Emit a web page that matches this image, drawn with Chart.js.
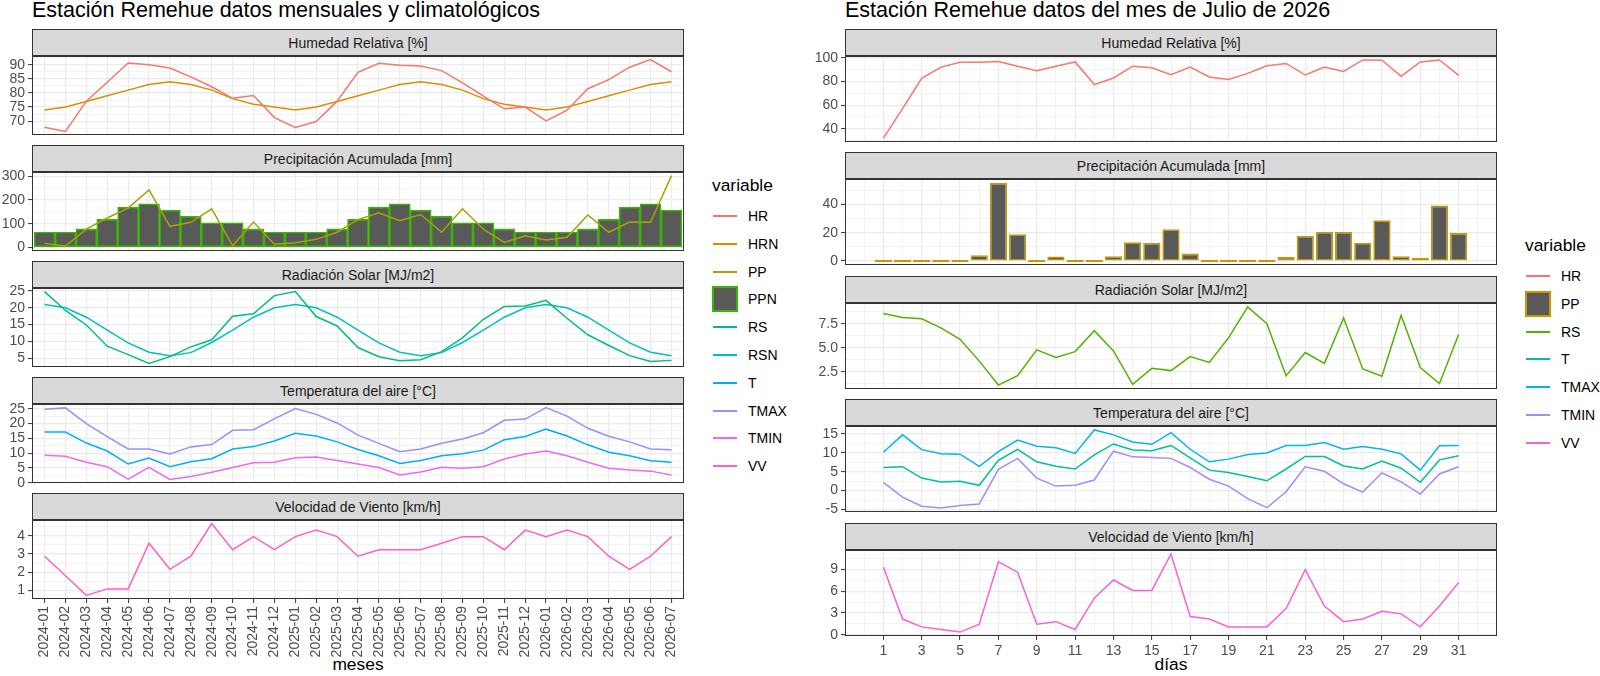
<!DOCTYPE html>
<html lang="es">
<head>
<meta charset="utf-8">
<title>Estación Remehue</title>
<script src="https://cdn.jsdelivr.net/npm/chart.js@4.4.1/dist/chart.umd.min.js"></script>
<style>
  body { margin: 0; background: #fff; font-family: "Liberation Sans", Arial, sans-serif; }
  #lienzo { position: relative; width: 1600px; height: 676px; overflow: hidden; background: #fff; }
  .titulo { position: absolute; top: -1px; font-size: 21.5px; line-height: 22px; color: #000; white-space: nowrap; }
  .tira { position: absolute; box-sizing: border-box; background: #d9d9d9; border: 1px solid #333;
          font-size: 14px; color: #1a1a1a; display: flex; align-items: center; justify-content: center; }
  .caja { position: absolute; }
  .eje { position: absolute; font-size: 17.4px; line-height: 18px; color: #000; transform: translateX(-50%); white-space: nowrap; }
  .ley-tit { position: absolute; font-size: 17.4px; line-height: 18px; color: #000; }
  .ley-txt { position: absolute; font-size: 14px; line-height: 14px; color: #000; }
  .ley-lin { position: absolute; height: 2px; }
  .ley-caja { position: absolute; box-sizing: border-box; background: #595959; border: 2px solid; }
</style>
</head>
<body>
<div id="lienzo">
  <div class="titulo" style="left:32px">Estación Remehue datos mensuales y climatológicos</div>
  <div class="titulo" style="left:845px">Estación Remehue datos del mes de Julio de 2026</div>
  <div class="eje" style="left:358px;top:655px">meses</div>
  <div class="eje" style="left:1171px;top:655px">días</div>
</div>
<script>
// ---- datos mensuales ----
const meses = ['2024-01','2024-02','2024-03','2024-04','2024-05','2024-06','2024-07','2024-08','2024-09','2024-10','2024-11','2024-12',
               '2025-01','2025-02','2025-03','2025-04','2025-05','2025-06','2025-07','2025-08','2025-09','2025-10','2025-11','2025-12',
               '2026-01','2026-02','2026-03','2026-04','2026-05','2026-06','2026-07'];
const hrMes   = [67.9, 66.4, 77.1, 83.8, 90.6, 90.0, 88.8, 85.7, 82.2, 78.1, 79.1, 71.3, 67.8, 69.9, 77.1, 87.3, 90.5, 89.8, 89.5, 87.9, 83.6, 78.9, 74.4, 75.0, 70.1, 73.9, 81.5, 84.7, 89.1, 91.8, 87.5];
const hrnMes  = [74, 75, 77, 79, 81, 83, 84, 83, 81, 78, 76, 75, 74, 75, 77, 79, 81, 83, 84, 83, 81, 78, 76, 75, 74, 75, 77, 79, 81, 83, 84];
const ppMes   = [17, 6, 77, 124, 166, 243, 89, 106, 163, 7, 107, 13, 20, 34, 64, 117, 146, 113, 139, 64, 163, 77, 21, 49, 31, 43, 137, 64, 107, 106, 303];
const ppnMes  = [65, 65, 78, 118, 170, 184, 157, 131, 104, 104, 78, 65, 65, 65, 78, 118, 170, 184, 157, 131, 104, 104, 78, 65, 65, 65, 78, 118, 170, 184, 157];
const rsMes   = [24.8, 19.2, 14.9, 8.6, 6.1, 3.5, 5.5, 8.4, 10.5, 17.5, 18.2, 23.6, 24.8, 17.4, 14.6, 8.2, 5.5, 4.3, 4.6, 7.0, 11.1, 16.6, 20.4, 20.5, 22.2, 16.9, 12.0, 8.8, 5.8, 4.1, 4.4];
const rsnMes  = [21, 20, 17.2, 13.4, 9.6, 6.8, 5.8, 6.7, 9.7, 13.4, 17.2, 20, 21, 20, 17.2, 13.4, 9.6, 6.8, 5.8, 6.7, 9.7, 13.4, 17.2, 20, 21, 20, 17.2, 13.4, 9.6, 6.8, 5.8];
const tMes    = [17.1, 17.1, 13.4, 10.7, 6.3, 8.3, 5.4, 7.1, 8.1, 11.4, 12.2, 14.1, 16.7, 15.8, 13.8, 11.2, 9.1, 6.5, 7.5, 9.1, 9.8, 11.0, 14.5, 15.6, 18.1, 15.8, 12.8, 10.3, 9.1, 7.4, 6.9];
const tmaxMes = [24.8, 25.3, 20.0, 15.6, 11.4, 11.4, 9.7, 12.1, 12.9, 17.7, 17.9, 21.6, 25.1, 23.1, 20.2, 16.1, 13.3, 10.5, 11.4, 13.3, 14.8, 16.9, 21.1, 21.5, 25.4, 22.5, 18.4, 15.7, 13.8, 11.4, 11.1];
const tminMes = [9.3, 8.9, 6.9, 5.4, 1.2, 5.2, 1.1, 2.1, 3.5, 5.1, 6.7, 6.9, 8.4, 8.7, 7.5, 6.3, 5.1, 2.6, 3.6, 5.2, 4.9, 5.4, 8.0, 9.7, 10.7, 9.1, 6.9, 4.9, 4.3, 3.9, 2.6];
const vvMes   = [2.88, 1.8, 0.72, 1.08, 1.08, 3.6, 2.16, 2.88, 4.68, 3.24, 3.96, 3.24, 3.96, 4.32, 3.96, 2.88, 3.24, 3.24, 3.24, 3.6, 3.96, 3.96, 3.24, 4.32, 3.96, 4.32, 3.96, 2.88, 2.16, 2.88, 3.96];

// ---- datos diarios (julio 2026) ----
const dias    = [1, 2, 3, 4, 5, 6, 7, 8, 9, 10, 11, 12, 13, 14, 15, 16, 17, 18, 19, 20, 21, 22, 23, 24, 25, 26, 27, 28, 29, 30, 31];
const hrDia   = [32.1, 57, 82.7, 92.2, 96.4, 96.4, 96.9, 93.0, 89.1, 93.0, 96.6, 77.4, 83.0, 93.0, 91.6, 85.8, 92.2, 83.8, 81.8, 86.9, 93.3, 95.3, 85.5, 92.2, 88.5, 98.3, 98.0, 84.4, 96.6, 98.3, 85.2];
const ppDia   = [0, 0, 0, 0, 0, 4.2, 55.3, 19.0, 0, 3.3, 0, 0, 3.5, 13.3, 12.8, 22.6, 5.3, 0, 0, 0, 0, 3.0, 17.9, 20.7, 20.7, 13.0, 28.8, 3.5, 2.3, 39.3, 19.8];
const rsDia   = [8.6, 8.18, 8.05, 7.09, 5.9, 3.63, 1.13, 2.12, 4.8, 4.0, 4.62, 6.8, 4.69, 1.2, 2.88, 2.64, 4.1, 3.5, 6.06, 9.28, 7.53, 2.09, 4.52, 3.39, 8.12, 2.81, 2.05, 8.39, 2.95, 1.3, 6.4];
const tDia    = [6.1, 6.3, 3.3, 2.3, 2.5, 1.4, 8.0, 10.9, 7.6, 6.4, 5.7, 9.4, 12.3, 10.7, 10.5, 11.9, 8.6, 5.4, 4.8, 3.7, 2.6, 5.7, 9.0, 9.0, 6.5, 5.7, 7.8, 5.9, 2.2, 8.1, 9.2];
const tmaxDia = [10.1, 14.7, 10.8, 9.7, 9.6, 6.4, 10.3, 13.3, 11.7, 11.3, 9.8, 16.0, 14.7, 12.8, 12.2, 15.3, 10.9, 7.6, 8.3, 9.5, 9.9, 11.9, 11.9, 12.7, 10.9, 11.6, 10.9, 9.7, 5.4, 11.8, 11.9];
const tminDia = [2.2, -1.7, -4.1, -4.6, -3.9, -3.5, 5.6, 8.5, 3.3, 1.2, 1.4, 2.8, 10.4, 8.9, 8.7, 8.5, 6.1, 3.0, 1.2, -2.1, -4.5, -0.3, 6.3, 5.1, 1.8, -0.4, 4.7, 2.3, -0.9, 4.4, 6.3];
const vvDia   = [9.36, 2.16, 1.08, 0.72, 0.36, 1.44, 10.08, 8.64, 1.44, 1.8, 0.72, 5.04, 7.56, 6.12, 6.12, 11.16, 2.52, 2.16, 1.08, 1.08, 1.08, 3.6, 9.0, 3.96, 1.8, 2.16, 3.24, 2.88, 1.08, 3.96, 7.2];

// ---- marcas de los ejes ----
const ticksHrMes = [70, 75, 80, 85, 90];
const ticksPpMes = [0, 100, 200, 300];
const ticksRsMes = [5, 10, 15, 20, 25];
const ticksTMes  = [0, 5, 10, 15, 20, 25];
const ticksVvMes = [1, 2, 3, 4];
const ticksHrDia = [40, 60, 80, 100];
const ticksPpDia = [0, 20, 40];
const ticksRsDia = [2.5, 5.0, 7.5];
const ticksTDia  = [-5, 0, 5, 10, 15];
const ticksVvDia = [0, 3, 6, 9];
const ticksDias  = [1, 3, 5, 7, 9, 11, 13, 15, 17, 19, 21, 23, 25, 27, 29, 31];

const colMes = { HR: '#F8766D', HRN: '#D89000', PP: '#A3A500', PPN: '#39B600', RS: '#00BF7D', RSN: '#00BFC4',
                 T: '#00B0F6', TMAX: '#9590FF', TMIN: '#E76BF3', VV: '#FF62BC' };
const colDia = { HR: '#F8766D', PP: '#C49A00', RS: '#53B400', T: '#00C094', TMAX: '#00B6EB', TMIN: '#A58AFF', VV: '#FB61D7' };

Chart.defaults.font.family = "'Liberation Sans', Arial, sans-serif";
const lienzo = document.getElementById('lienzo');

// geometria de cada columna de facetas
const izq = { x: 32, w: 652, yW: 32, tops: [29, 145, 261, 377, 493], tira: 27, alto: 79, xH: 64,
              xMin: -0.6, xMax: 30.6, xs: meses.map((m, i) => i), rot: 90,
              xTicks: meses.map((m, i) => ({ value: i })), xLabel: v => meses[Math.round(v)] };
const der = { x: 845, w: 652, yW: 40, tops: [29, 152, 276, 399, 523], tira: 27, alto: 86, xH: 24,
              xMin: -1, xMax: 33, xs: dias, rot: 0,
              xTicks: [0].concat(dias, [32]).map(d => ({ value: d, minor: !ticksDias.includes(d) })), xLabel: v => String(v) };

function rango(series) {
  const todos = [].concat(...series);
  const lo = Math.min(...todos), hi = Math.max(...todos);
  const e = (hi - lo) * 0.05;
  return { min: lo - e, max: hi + e };
}

function conMenores(mayores, min, max) {
  const paso = mayores[1] - mayores[0];
  const out = [];
  for (let k = -2; k <= (mayores.length + 1) * 2; k++) {
    const v = Math.round((mayores[0] + k * paso / 2) * 1000) / 1000;
    if (v >= min && v <= max) out.push({ value: v, minor: k % 2 !== 0 });
  }
  return out;
}

const borde = {
  id: 'borde',
  afterDraw(chart) {
    const a = chart.chartArea, c = chart.ctx;
    c.save();
    c.strokeStyle = '#333333';
    c.lineWidth = 1;
    c.strokeRect(a.left + 0.5, a.top + 0.5, a.right - a.left - 1, a.bottom - a.top - 1);
    c.restore();
  }
};

function rejilla(marcas) {
  return {
    color: '#EBEBEB',
    lineWidth: c => (c.tick && c.tick.minor) ? 0.6 : 1.2,
    drawTicks: marcas,
    tickLength: 4,
    tickWidth: 1,
    tickColor: c => (c.tick && c.tick.minor) ? 'rgba(0,0,0,0)' : '#333333',
    offset: false
  };
}

function linea(L, arr, color) {
  return { type: 'line', data: L.xs.map((x, i) => ({ x: x, y: arr[i] })), borderColor: color, borderWidth: 1.5,
           pointRadius: 0, fill: false, tension: 0, order: 0 };
}

function barras(L, arr, borde, ancho) {
  return { type: 'bar', data: L.xs.map((x, i) => ({ x: x, y: arr[i] })), backgroundColor: '#595959',
           borderColor: borde, borderWidth: 1.6, borderSkipped: false, barPercentage: ancho,
           categoryPercentage: 1, minBarLength: 2, order: 1 };
}

function faceta(L, k, titulo, datasets, series, mayores, dec) {
  const tiraTop = L.tops[k];
  const panelTop = tiraTop + L.tira;
  const ultimo = k === 4;

  const tira = document.createElement('div');
  tira.className = 'tira';
  Object.assign(tira.style, { left: L.x + 'px', top: tiraTop + 'px', width: L.w + 'px', height: L.tira + 'px' });
  tira.textContent = titulo;
  lienzo.appendChild(tira);

  const caja = document.createElement('div');
  caja.className = 'caja';
  Object.assign(caja.style, { left: (L.x - L.yW) + 'px', top: (panelTop - 8) + 'px',
                              width: (L.yW + L.w + 4) + 'px', height: (L.alto + 16 + (ultimo ? L.xH : 0)) + 'px' });
  const cv = document.createElement('canvas');
  caja.appendChild(cv);
  lienzo.appendChild(caja);

  const r = rango(series);
  const yTicks = conMenores(mayores, r.min, r.max);
  const fuente = { size: 14 };

  new Chart(cv, {
    type: 'line',
    data: { datasets: datasets },
    options: {
      responsive: true, maintainAspectRatio: false, animation: false,
      layout: { autoPadding: false, padding: { top: 8, bottom: 8, left: 0, right: 4 } },
      plugins: { legend: { display: false }, tooltip: { enabled: false } },
      scales: {
        x: {
          type: 'linear', min: L.xMin, max: L.xMax, offset: false,
          afterBuildTicks: ax => { ax.ticks = L.xTicks.map(t => Object.assign({}, t)); },
          afterFit: ax => { ax.height = ultimo ? L.xH : 0; ax.paddingLeft = 0; ax.paddingRight = 0; },
          grid: rejilla(ultimo),
          border: { display: false },
          ticks: { display: ultimo, autoSkip: false, maxRotation: L.rot, minRotation: L.rot, padding: 3,
                   color: '#4D4D4D', font: fuente,
                   callback: (v, i, t) => t[i].minor ? '' : L.xLabel(v) }
        },
        y: {
          type: 'linear', min: r.min, max: r.max,
          afterBuildTicks: ax => { ax.ticks = yTicks.map(t => Object.assign({}, t)); },
          afterFit: ax => { ax.width = L.yW; ax.paddingTop = 0; ax.paddingBottom = 0; },
          grid: rejilla(true),
          border: { display: false },
          ticks: { autoSkip: false, padding: 3, color: '#4D4D4D', font: fuente,
                   callback: (v, i, t) => t[i].minor ? '' : v.toFixed(dec) }
        }
      }
    },
    plugins: [borde]
  });
}

// ---- columna izquierda: mensual ----
faceta(izq, 0, 'Humedad Relativa [%]',
  [linea(izq, hrMes, colMes.HR), linea(izq, hrnMes, colMes.HRN)], [hrMes, hrnMes], ticksHrMes, 0);
faceta(izq, 1, 'Precipitación Acumulada [mm]',
  [linea(izq, ppMes, colMes.PP), barras(izq, ppnMes, colMes.PPN, 1)], [ppMes, ppnMes, [0]], ticksPpMes, 0);
faceta(izq, 2, 'Radiación Solar [MJ/m2]',
  [linea(izq, rsMes, colMes.RS), linea(izq, rsnMes, colMes.RSN)], [rsMes, rsnMes], ticksRsMes, 0);
faceta(izq, 3, 'Temperatura del aire [°C]',
  [linea(izq, tMes, colMes.T), linea(izq, tmaxMes, colMes.TMAX), linea(izq, tminMes, colMes.TMIN)],
  [tMes, tmaxMes, tminMes], ticksTMes, 0);
faceta(izq, 4, 'Velocidad de Viento [km/h]',
  [linea(izq, vvMes, colMes.VV)], [vvMes], ticksVvMes, 0);

// ---- columna derecha: diario ----
faceta(der, 0, 'Humedad Relativa [%]', [linea(der, hrDia, colDia.HR)], [hrDia], ticksHrDia, 0);
faceta(der, 1, 'Precipitación Acumulada [mm]', [barras(der, ppDia, colDia.PP, 0.9)], [ppDia], ticksPpDia, 0);
faceta(der, 2, 'Radiación Solar [MJ/m2]', [linea(der, rsDia, colDia.RS)], [rsDia], ticksRsDia, 1);
faceta(der, 3, 'Temperatura del aire [°C]',
  [linea(der, tDia, colDia.T), linea(der, tmaxDia, colDia.TMAX), linea(der, tminDia, colDia.TMIN)],
  [tDia, tmaxDia, tminDia], ticksTDia, 0);
faceta(der, 4, 'Velocidad de Viento [km/h]', [linea(der, vvDia, colDia.VV)], [vvDia], ticksVvDia, 0);

// ---- leyendas ----
function leyenda(x, yTit, y0, nombres, colores, caja) {
  const t = document.createElement('div');
  t.className = 'ley-tit';
  t.style.left = x + 'px';
  t.style.top = (yTit - 9) + 'px';
  t.textContent = 'variable';
  lienzo.appendChild(t);
  nombres.forEach((n, i) => {
    const y = Math.round(y0 + i * 27.8);
    const key = document.createElement('div');
    if (n === caja) {
      key.className = 'ley-caja';
      Object.assign(key.style, { left: x + 'px', top: (y - 13) + 'px', width: '26px', height: '26px', borderColor: colores[n] });
    } else {
      key.className = 'ley-lin';
      Object.assign(key.style, { left: (x + 1) + 'px', top: (y - 1) + 'px', width: '24px', background: colores[n] });
    }
    lienzo.appendChild(key);
    const txt = document.createElement('div');
    txt.className = 'ley-txt';
    txt.style.left = (x + 36) + 'px';
    txt.style.top = (y - 7) + 'px';
    txt.textContent = n;
    lienzo.appendChild(txt);
  });
}
leyenda(712, 185, 216, Object.keys(colMes), colMes, 'PPN');
leyenda(1525, 245, 276, Object.keys(colDia), colDia, 'PP');
</script>
</body>
</html>
